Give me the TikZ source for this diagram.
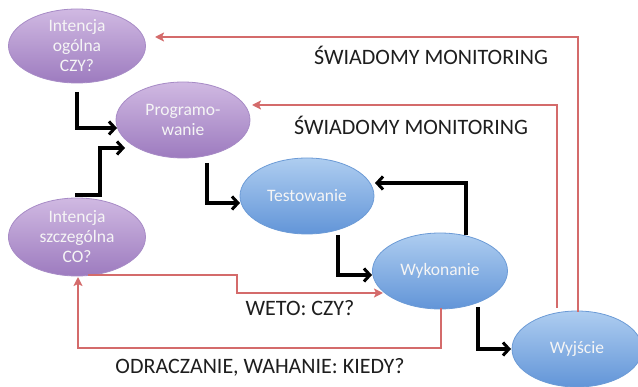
\documentclass[tikz,border=0pt]{standalone}
\usepackage{fontspec}
\setmainfont{Carlito}
\usetikzlibrary{shapes.geometric,arrows.meta,calc}

\definecolor{purpTop}{HTML}{D0B9E2}
\definecolor{purpBot}{HTML}{9D7BBF}
\definecolor{purpLine}{HTML}{A78BC6}
\definecolor{blueTop}{HTML}{AECDF0}
\definecolor{blueBot}{HTML}{6295D8}
\definecolor{blueLine}{HTML}{6C9BD6}
\definecolor{monRed}{HTML}{D46B6B}
\definecolor{labelInk}{HTML}{1E1E1E}

\tikzset{
  oval/.style={ellipse, inner sep=0pt, minimum width=134pt, minimum height=76pt,
    align=center, text=white!92!gray, font=\fontsize{17.5}{20}\selectfont, line width=0.8pt},
  purpleoval/.style={oval, draw=purpLine, top color=purpTop, bottom color=purpBot},
  blueoval/.style={oval, draw=blueLine, top color=blueTop, bottom color=blueBot},
  flow/.style={draw=black, line width=3.2pt,
    -{Straight Barb[length=6pt,width=13pt,line width=3pt]}},
  monitor/.style={draw=monRed, line width=2.8pt,
    -{Stealth[length=9pt,width=9pt,inset=2pt]}},
  caption/.style={text=labelInk, font=\fontsize{22}{26}\selectfont, inner sep=0pt}
}

\begin{document}
\begin{tikzpicture}[x=1pt,y=-1pt]
  \useasboundingbox (0,0) rectangle (638,387);

  % stages of the action
  \node[purpleoval, minimum width=137pt, minimum height=74pt] (ogolna) at (77,46) {Intencja\\ogólna\\CZY?};
  \node[purpleoval] (prog) at (183,120) {Programo-\\wanie};
  \node[purpleoval, minimum width=137pt, minimum height=78pt] (szczeg) at (77,237) {Intencja\\szczególna\\CO?};
  \node[blueoval] (test) at (307,196) {Testowanie};
  \node[blueoval, minimum width=135pt] (wyk) at (440,271) {Wykonanie};
  \node[blueoval, minimum width=130pt] (wyj) at (577,349) {Wyjście};

  % control points for the connectors
  \coordinate (ogolnaOut) at (77,92);
  \coordinate (progInA) at (117,128);
  \coordinate (szczegOut) at (75,195);
  \coordinate (progInB) at (125,148);
  \coordinate (progOut) at (207,163);
  \coordinate (testIn) at (240,203);
  \coordinate (testOut) at (338,235);
  \coordinate (wykInA) at (372,275);
  \coordinate (wykUp) at (466,235);
  \coordinate (testBack) at (375,183);
  \coordinate (wykDown) at (478,307);
  \coordinate (wyjIn) at (511,349);

  \coordinate (wyjUpA) at (578,312);
  \coordinate (ogolnaIn) at (155,37);
  \coordinate (wyjUpB) at (557,308);
  \coordinate (progInC) at (252,105);
  \coordinate (vetoOut) at (88,275);
  \coordinate (vetoIn) at (383,293);
  \coordinate (delayOut) at (441,308);
  \coordinate (delayIn) at (78,277);

  % main flow
  \draw[flow] (ogolnaOut) |- (progInA);
  \draw[flow] (szczegOut) -- ++(25,0) |- (progInB);
  \draw[flow] (progOut) |- (testIn);
  \draw[flow] (testOut) |- (wykInA);
  \draw[flow] (wykUp) |- (testBack);
  \draw[flow] (wykDown) |- (wyjIn);

  % feedback loops
  \draw[monitor] (wyjUpA) |- (ogolnaIn);
  \draw[monitor] (wyjUpB) |- (progInC);
  \draw[monitor] (vetoOut) -- (237,275) |- (vetoIn);
  \draw[monitor] (delayOut) |- (delayIn |- 0,348) -- (delayIn);

  % captions
  \node[caption] (mon1) at (431,55) {ŚWIADOMY MONITORING};
  \node[caption] (mon2) at (411,125) {ŚWIADOMY MONITORING};
  \node[caption] (veto) at (300,308) {WETO: CZY?};
  \node[caption] (delay) at (260,367) {ODRACZANIE, WAHANIE: KIEDY?};
\end{tikzpicture}
\end{document}
